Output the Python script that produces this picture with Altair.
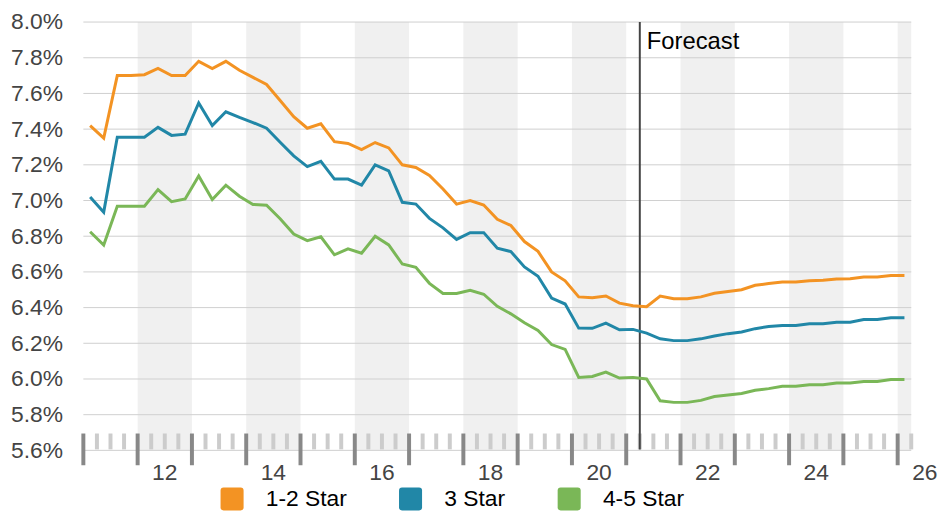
import altair as alt
import pandas as pd

# ---------------- data ----------------
series_names = ["1-2 Star", "3 Star", "4-5 Star"]
series_colors = ["#F39323", "#2187A7", "#7AB757"]

first_year = 2011
n_quarters = 61  # 2011 Q1 .. 2026 Q1

star_1_2 = [7.42, 7.35, 7.70, 7.70, 7.705, 7.74, 7.70, 7.70, 7.78, 7.74,
            7.78, 7.73, 7.69, 7.65, 7.56, 7.47, 7.405, 7.43, 7.33, 7.32,
            7.285, 7.325, 7.295, 7.20, 7.185, 7.14, 7.065, 6.98, 7.00, 6.975,
            6.895, 6.86, 6.77, 6.715, 6.60, 6.55, 6.46, 6.455, 6.465, 6.425,
            6.41, 6.405, 6.465, 6.45, 6.45, 6.46, 6.48, 6.49, 6.50, 6.525,
            6.535, 6.543, 6.543, 6.55, 6.553, 6.56, 6.562, 6.572, 6.572, 6.58,
            6.58]
star_3 = [7.02, 6.935, 7.355, 7.355, 7.355, 7.41, 7.365, 7.372, 7.547, 7.42,
          7.497, 7.466, 7.437, 7.405, 7.326, 7.25, 7.19, 7.22, 7.12, 7.12,
          7.086, 7.20, 7.166, 6.99, 6.98, 6.90, 6.847, 6.782, 6.82, 6.82,
          6.733, 6.714, 6.628, 6.576, 6.453, 6.42, 6.285, 6.284, 6.313, 6.276,
          6.278, 6.257, 6.225, 6.215, 6.215, 6.225, 6.241, 6.254, 6.263, 6.282,
          6.294, 6.30, 6.30, 6.31, 6.31, 6.318, 6.318, 6.333, 6.333, 6.343,
          6.343]
star_4_5 = [6.825, 6.751, 6.968, 6.968, 6.968, 7.061, 6.994, 7.009, 7.138, 7.006,
            7.086, 7.024, 6.978, 6.974, 6.898, 6.812, 6.775, 6.797, 6.696, 6.729,
            6.705, 6.80, 6.751, 6.644, 6.626, 6.536, 6.479, 6.479, 6.497, 6.475,
            6.407, 6.365, 6.315, 6.272, 6.193, 6.166, 6.009, 6.014, 6.039, 6.005,
            6.009, 6.00, 5.878, 5.869, 5.869, 5.88, 5.902, 5.91, 5.919, 5.937,
            5.946, 5.959, 5.959, 5.968, 5.968, 5.977, 5.977, 5.986, 5.986, 5.997,
            5.997]

y_ticks = [5.6, 5.8, 6.0, 6.2, 6.4, 6.6, 6.8, 7.0, 7.2, 7.4, 7.6, 7.8, 8.0]
shaded_years = [2012, 2014, 2016, 2018, 2020, 2022, 2024, 2026]
year_labels = ["12", "14", "16", "18", "20", "22", "24", "26"]
all_years = list(range(2011, 2027))
forecast_start = [2021.25]
forecast_label = ["Forecast"]
x_domain = [2011, 2026.25]

# ---------------- tables ----------------
rows = []
for name, col, vals in zip(series_names, series_colors, [star_1_2, star_3, star_4_5]):
    for i, v in enumerate(vals):
        rows.append({"series": name, "col": col, "t": first_year + (i + 0.5) / 4, "v": v})
lines_df = pd.DataFrame(rows)

bands_df = pd.DataFrame({"start": shaded_years, "end": [y + 1 for y in shaded_years]})
grid_df = pd.DataFrame({"v": y_ticks})
major_df = pd.DataFrame({"t": all_years})
minor_df = pd.DataFrame({"t": [y + q / 4 for y in all_years for q in (1, 2, 3)
                               if y + q / 4 <= x_domain[1]]})
xlab_df = pd.DataFrame({"t": [y + 0.5 for y in shaded_years], "lab": year_labels})
fc_df = pd.DataFrame({"t": forecast_start, "lab": forecast_label})
legend_df = pd.DataFrame({"series": series_names})

# ---------------- styling ----------------
W, H = 835, 432
FONT = "Liberation Sans"
xs = alt.Scale(domain=x_domain, nice=False, zero=False)
ys = alt.Scale(domain=[5.6, 8.0], nice=False, zero=False)
yaxis = alt.Axis(values=y_ticks, labelExpr="format(datum.value, '.1f') + '%'",
                 grid=False, ticks=False, tickSize=0, domain=False, labelPadding=21,
                 labelFontSize=23, labelFont=FONT, labelColor="#444444", title=None,
                 labelFlush=False, labelOverlap=False)
fill_scale = alt.Scale(domain=series_names, range=series_colors)
rounded = ("M-0.74,-1 L0.74,-1 Q1,-1 1,-0.74 L1,0.74 Q1,1 0.74,1 L-0.74,1 "
           "Q-1,1 -1,0.74 L-1,-0.74 Q-1,-1 -0.74,-1 Z")

bands = alt.Chart(bands_df).mark_rect(color="#f0f0f0", clip=True).encode(
    x=alt.X("start:Q", scale=xs, axis=None), x2="end:Q",
    y=alt.value(0), y2=alt.value(H + 3))

grid = alt.Chart(grid_df).mark_rule(color="#cfcfcf", strokeWidth=1).encode(
    y=alt.Y("v:Q", scale=ys, axis=yaxis), x=alt.value(0), x2=alt.value(W))

minor = alt.Chart(minor_df).mark_rule(color="#cccccc", strokeWidth=4).encode(
    x=alt.X("t:Q", scale=xs, axis=None), y=alt.value(H - 17), y2=alt.value(H - 1))

major = alt.Chart(major_df).mark_rule(color="#888888", strokeWidth=4).encode(
    x=alt.X("t:Q", scale=xs, axis=None), y=alt.value(H - 17), y2=alt.value(H + 15))

fc_rule = alt.Chart(fc_df).mark_rule(color="#444444", strokeWidth=2).encode(
    x=alt.X("t:Q", scale=xs, axis=None), y=alt.value(0), y2=alt.value(H - 1))

fc_text = alt.Chart(fc_df).mark_text(align="left", baseline="alphabetic", dx=7,
                                     fontSize=24, font=FONT, color="black").encode(
    x=alt.X("t:Q", scale=xs, axis=None), y=alt.value(27), text="lab:N")

lines = alt.Chart(lines_df).mark_line(strokeWidth=3).encode(
    x=alt.X("t:Q", scale=xs, axis=None),
    y=alt.Y("v:Q", scale=ys, axis=yaxis),
    detail="series:N",
    color=alt.Color("col:N", scale=None))

legend_layer = alt.Chart(legend_df).mark_square(opacity=1).encode(
    fill=alt.Fill("series:N", scale=fill_scale,
                  legend=alt.Legend(title=None, orient="none", legendX=138, legendY=469,
                                    direction="horizontal", symbolType=rounded,
                                    symbolSize=540, symbolStrokeWidth=0, symbolOpacity=1,
                                    labelFontSize=23, labelFont=FONT, labelColor="black",
                                    labelOffset=22, columnPadding=52, padding=0))
).transform_filter("false")

xlabels = alt.Chart(xlab_df).mark_text(align="center", baseline="alphabetic",
                                       fontSize=23, font=FONT, color="#444444").encode(
    x=alt.X("t:Q", scale=xs, axis=None), y=alt.value(H + 30), text="lab:N")

chart = alt.layer(bands, grid, minor, major, fc_rule, lines, legend_layer, fc_text, xlabels).properties(
    width=W, height=H,
    padding={"left": 76, "top": 12, "right": 28, "bottom": 62},
    autosize=alt.AutoSizeParams(type="none"),
).configure_view(stroke=None)

chart.save("out.html", embed_options={"renderer": "svg", "actions": False})
